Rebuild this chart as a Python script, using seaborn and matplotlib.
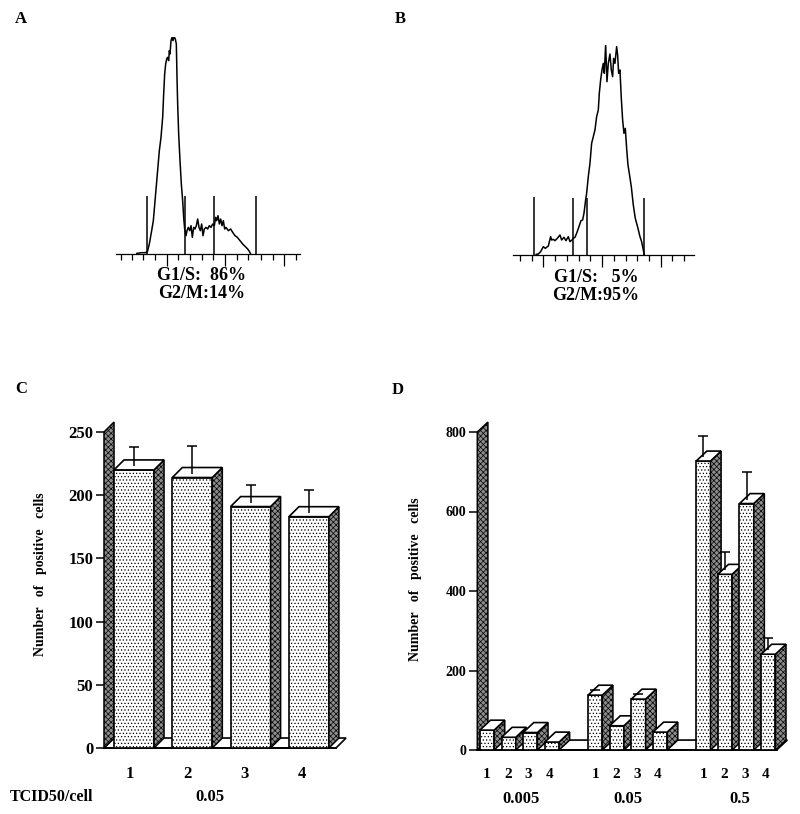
import matplotlib
matplotlib.use("Agg")
import matplotlib.pyplot as plt
from matplotlib.patches import Polygon
import numpy as np
import pandas as pd
import seaborn as sns

# histogram A (channel, count)
channel_a = [110, 125, 135, 142, 148, 155, 160, 166, 172, 178, 183, 188, 191, 194, 197, 200, 203, 206, 208, 210,
             213, 216, 219, 222, 226, 229, 231, 233, 236, 240, 244, 248, 251, 254, 258, 261, 265, 269, 273, 277,
             281, 285, 289, 293, 297, 301, 305, 309, 313, 318, 323, 328, 333, 338, 343, 347, 350, 354, 358, 362,
             366, 370, 374, 378, 385, 392, 398, 405, 412, 420, 428, 436, 443, 448, 452]
count_a = [2, 4, 4, 6, 30, 70, 100, 170, 240, 310, 350, 410, 480, 540, 570, 585, 590, 580, 610, 600,
           640, 650, 640, 652, 645, 630, 530, 450, 360, 280, 210, 160, 110, 75, 55, 70, 80, 70, 85, 50,
           80, 75, 85, 105, 80, 70, 90, 55, 75, 80, 75, 85, 80, 90, 85, 110, 100, 115, 90, 105,
           85, 100, 75, 80, 70, 75, 65, 55, 50, 40, 30, 22, 15, 8, 0]
gates_a = [142, 255, 341, 469]

# histogram B (channel, count)
channel_b = [78, 85, 92, 100, 106, 115, 122, 125, 130, 135, 142, 150, 155, 162, 168, 175, 180, 186, 190, 195,
             200, 207, 213, 218, 222, 227, 230, 235, 240, 245, 250, 255, 260, 265, 268, 272, 276, 280, 283, 287,
             291, 295, 300, 304, 308, 311, 315, 320, 323, 326, 330, 334, 338, 342, 346, 350, 354, 358, 364, 370,
             376, 380, 384, 390, 395, 400, 403]
count_b = [2, 3, 10, 25, 20, 27, 55, 45, 47, 43, 50, 60, 45, 53, 43, 55, 40, 45, 50, 53,
           65, 85, 103, 105, 125, 165, 185, 235, 275, 335, 355, 375, 415, 435, 485, 525, 555, 575, 545, 630,
           520, 575, 603, 555, 535, 590, 575, 625, 600, 545, 555, 470, 405, 365, 380, 320, 270, 245, 205, 150,
           110, 95, 80, 55, 40, 15, 0]
gates_b = [73, 190, 231, 401]

# bars C
lanes_c = ["1", "2", "3", "4"]
cells_c = [220, 214, 191, 183]
upper_c = [238, 239, 208, 204]

# bars D
doses_d = ["0.005", "0.05", "0.5"]
lanes_d = ["1", "2", "3", "4"]
cells_d = [50, 32, 44, 20, 138, 61, 128, 45, 727, 442, 620, 241]
upper_d = [np.nan, np.nan, np.nan, np.nan, 150, np.nan, 142, np.nan, 791, 498, 699, 283]

W, H = 800, 814
sns.set_theme(style="white")
plt.rcParams["font.family"] = ["Liberation Serif", "DejaVu Serif"]
plt.rcParams["font.weight"] = "bold"
plt.rcParams["hatch.linewidth"] = 0.5

fig = plt.figure(figsize=(W / 100, H / 100), dpi=100, facecolor="white")


def add_axes(left, right, top, bottom):
    ax = fig.add_axes([left / W, 1 - bottom / H, (right - left) / W, (bottom - top) / H])
    ax.patch.set_alpha(0)
    return ax


def label(x, y, s, **kw):
    fig.text(x / W, 1 - y / H, s, ha="center", va="center", color="black", **kw)


def histogram(ax, channel, count, gates, heights, major, minor, xlim, ylim):
    sns.lineplot(x=channel, y=count, sort=False, estimator=None, color="black", lw=1.1, ax=ax)
    ax.vlines(gates, 0, heights, color="black", lw=1.1, clip_on=False)
    ax.set_xlim(*xlim)
    ax.set_ylim(*ylim)
    ax.set_xticks(major)
    ax.set_xticks(minor, minor=True)
    ax.set_xticklabels([])
    ax.set_yticks([])
    ax.set_xlabel("")
    ax.set_ylabel("")
    ax.tick_params(axis="x", which="major", bottom=True, length=8.5, width=0.9, color="black")
    ax.tick_params(axis="x", which="minor", bottom=True, length=4, width=0.9, color="black")
    sns.despine(ax=ax, left=True)
    ax.spines["bottom"].set_linewidth(0.9)
    ax.spines["bottom"].set_color("black")


def bars3d(ax, pos, cells, upper, width, xlim, ymax, dx, dy, yticks, size):
    df = pd.DataFrame({"pos": pos, "cells": cells})
    sns.barplot(data=df, x="pos", y="cells", native_scale=True, width=width, color="white", saturation=1,
                edgecolor="black", linewidth=1.2, hatch=".....", ax=ax)
    bars = sorted(ax.patches, key=lambda p: p.get_x())
    dark = dict(facecolor="#8c8c8c", edgecolor="black", hatch="xxxxxx", linewidth=1.1, clip_on=False)

    # floor and back wall
    ax.add_patch(Polygon([(xlim[0], 0), (xlim[1], 0), (xlim[1] + dx, dy), (xlim[0] + dx, dy)],
                         facecolor="white", edgecolor="black", linewidth=1.2, clip_on=False, zorder=1))
    ax.add_patch(Polygon([(xlim[0], 0), (xlim[0] + dx, dy), (xlim[0] + dx, ymax + dy), (xlim[0], ymax)],
                         zorder=1.5, **dark))

    for i, bar in enumerate(bars):
        x0 = bar.get_x()
        x1 = x0 + bar.get_width()
        h = bar.get_height()
        z = 3 + i
        bar.set_zorder(z)
        bar.set_clip_on(False)
        ax.add_patch(Polygon([(x1, 0), (x1 + dx, dy), (x1 + dx, h + dy), (x1, h)], zorder=z, **dark))
        ax.add_patch(Polygon([(x0, h), (x1, h), (x1 + dx, h + dy), (x0 + dx, h + dy)], facecolor="white",
                             edgecolor="black", linewidth=1.2, clip_on=False, zorder=z))
        if not np.isnan(upper[i]):
            start = h + dy * 0.4
            _, caps, _ = ax.errorbar((x0 + x1) / 2, upper[i], yerr=[[upper[i] - start], [0]], color="black",
                                     elinewidth=1.1, capsize=3.7, capthick=1.1, zorder=z + 0.5, clip_on=False)
            caps[0].set_visible(False)

    ax.set_xlim(*xlim)
    ax.set_ylim(0, ymax)
    ax.set_yticks(yticks)
    ax.set_yticklabels([str(t) for t in yticks], fontsize=size, fontweight="bold", color="black")
    ax.set_xlabel("")
    ax.set_ylabel("")
    ax.tick_params(axis="y", left=True, length=5.8, width=1.1, pad=2, color="black")
    sns.despine(ax=ax, left=True)
    ax.spines["bottom"].set_linewidth(1.3)
    ax.spines["bottom"].set_color("black")


# panel A
ax_a = add_axes(116, 300, 37, 254)
histogram(ax_a, channel_a, count_a, gates_a, [174, 174, 174, 174], [200, 375, 553],
          [62, 97, 130, 165, 235, 270, 305, 340, 410, 445, 483, 518, 588], (48, 600), (0, 651))
label(202, 276, "G1/S:  86%", fontsize=13)
label(202, 293, "G2/M:14%", fontsize=13)

# panel B
ax_b = add_axes(513.3, 694.3, 45, 255)
histogram(ax_b, channel_b, count_b, gates_b, [175, 172, 172, 172], [100, 276, 452],
          [30, 65, 136, 171, 206, 241, 312, 347, 382, 417, 487, 522], (10, 553), (0, 630))
label(596, 277, "G1/S:   5%", fontsize=13)
label(596, 295, "G2/M:95%", fontsize=13)

# panel C
ax_c = add_axes(104, 336, 432, 748)
pos_c = np.arange(len(cells_c))
bars3d(ax_c, pos_c, cells_c, upper_c, 0.686, (-0.515, 3.465), 250, 0.172, 7.9, [0, 50, 100, 150, 200, 250], 12)
ax_c.set_xticks(pos_c - 0.07 - 0.017 * pos_c)
ax_c.set_xticklabels(lanes_c, fontsize=12, fontweight="bold", color="black")
ax_c.tick_params(axis="x", bottom=False, pad=7)
ax_c.set_ylabel("Number   of   positive   cells", fontsize=10, fontweight="bold", color="black")
ax_c.yaxis.set_label_coords(47 / W, 1 - 574 / H, transform=fig.transFigure)

# panel D
ax_d = add_axes(477.3, 776.7, 432, 750)
pos_d = np.array([g * 5 + r for g in range(len(doses_d)) for r in range(len(lanes_d))])
bars3d(ax_d, pos_d, cells_d, upper_d, 0.66, (-0.45, 13.39), 800, 0.49, 25, [0, 200, 400, 600, 800], 10)
ax_d.set_xticks(pos_d - 0.04 * (pos_d % 5))
ax_d.set_xticklabels(lanes_d * len(doses_d), fontsize=11, fontweight="bold", color="black")
ax_d.tick_params(axis="x", bottom=False, pad=7)
ax_d.set_ylabel("Number   of   positive   cells", fontsize=10, fontweight="bold", color="black")
ax_d.yaxis.set_label_coords(422 / W, 1 - 579 / H, transform=fig.transFigure)

# shared text
label(52, 797, "TCID50/cell", fontsize=11.5)
label(210, 797, "0.05", fontsize=12)
for x, dose in zip([521, 628, 740], doses_d):
    label(x, 799, dose, fontsize=12)
for x, y, letter in [(21, 19, "A"), (400, 19, "B"), (21, 389, "C"), (398, 390, "D")]:
    label(x, y, letter, fontsize=12)

fig.savefig("out.png", dpi=100)
